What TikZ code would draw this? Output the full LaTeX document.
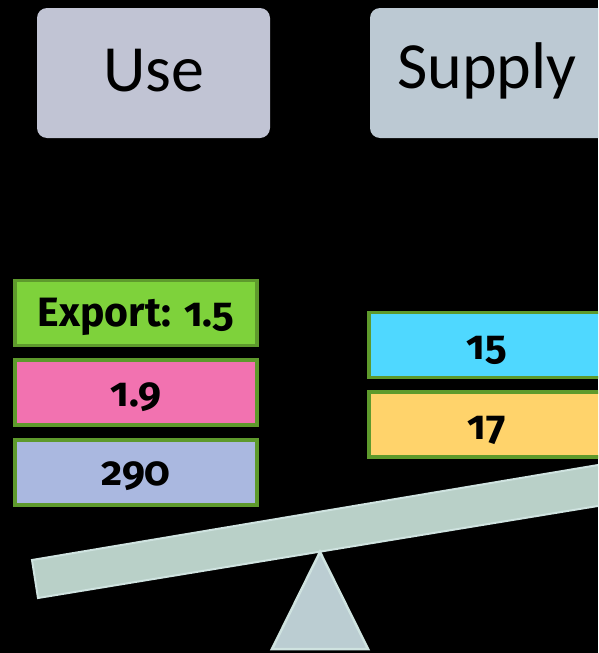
\documentclass[tikz,border=0pt]{standalone}
\usepackage{fontspec}
\setmainfont{Carlito}
\newfontfamily\valfont[Numbers=OldStyle]{Fira Sans}
\definecolor{bg}{HTML}{000000}
\definecolor{usefill}{HTML}{C1C4D4}
\definecolor{supfill}{HTML}{BCC9D3}
\definecolor{boxborder}{HTML}{5E9A2C}
\definecolor{expfill}{HTML}{7ED23B}
\definecolor{pinkfill}{HTML}{F272B0}
\definecolor{bluefill}{HTML}{AAB8E0}
\definecolor{cyanfill}{HTML}{4FD8FF}
\definecolor{yellowfill}{HTML}{FFD36B}
\definecolor{beamfill}{HTML}{B9D0C8}
\definecolor{beamline}{HTML}{CFE3E0}
\definecolor{trifill}{HTML}{BBCDD2}
\tikzset{
  headfont/.style={font=\fontsize{66}{72}\selectfont},
  valtext/.style={font=\valfont\bfseries\fontsize{41}{45}\selectfont},
  valbox/.style={draw=boxborder, line width=3.5pt, inner sep=0pt},
}
\begin{document}
\begin{tikzpicture}[x=1pt,y=-1pt]
\fill[bg] (0,0) rectangle (598,653);
\useasboundingbox (0,0) rectangle (598,653);
\begin{scope}
\clip (0,0) rectangle (598,653);
% headers
\fill[usefill, rounded corners=10pt] (37,8) rectangle (270,138);
\node[headfont] (use) at (153.5,71) {Use};
\fill[supfill, rounded corners=10pt] (370,8) rectangle (640,138);
\node[headfont] (supply) at (487,71) {Supply};
% left boxes
\node[valbox, fill=expfill, minimum width=242pt, minimum height=65pt] (export) at (136,313) {};
\node[valtext] (exportt) at (136,317) {Export: 1.5};
\node[valbox, fill=pinkfill, minimum width=242pt, minimum height=65pt] (pink) at (136,392.5) {};
\node[valtext] (pinkt) at (136,397) {1.9};
\node[valbox, fill=bluefill, minimum width=242pt, minimum height=65pt] (blue) at (136,472.5) {};
\node[valtext] (bluet) at (136,476) {290};
% right boxes
\node[valbox, fill=cyanfill, minimum width=240pt, minimum height=65pt, anchor=west] (cyan) at (367,345) {};
\node[valtext] (cyant) at (487,350) {15};
\node[valbox, fill=yellowfill, minimum width=240pt, minimum height=65pt, anchor=west] (yellow) at (367,424.5) {};
\node[valtext] (yellowt) at (487,430) {17};
% beam
\draw[fill=beamfill, draw=beamline, line width=2pt, line join=miter] (32,560) -- (610,463) -- (616,503) -- (38,598) -- cycle;
% fulcrum
\draw[fill=trifill, draw=beamline, line width=2.5pt] (320,552) -- (368,649) -- (272,649) -- cycle;
\end{scope}
\end{tikzpicture}
\end{document}
